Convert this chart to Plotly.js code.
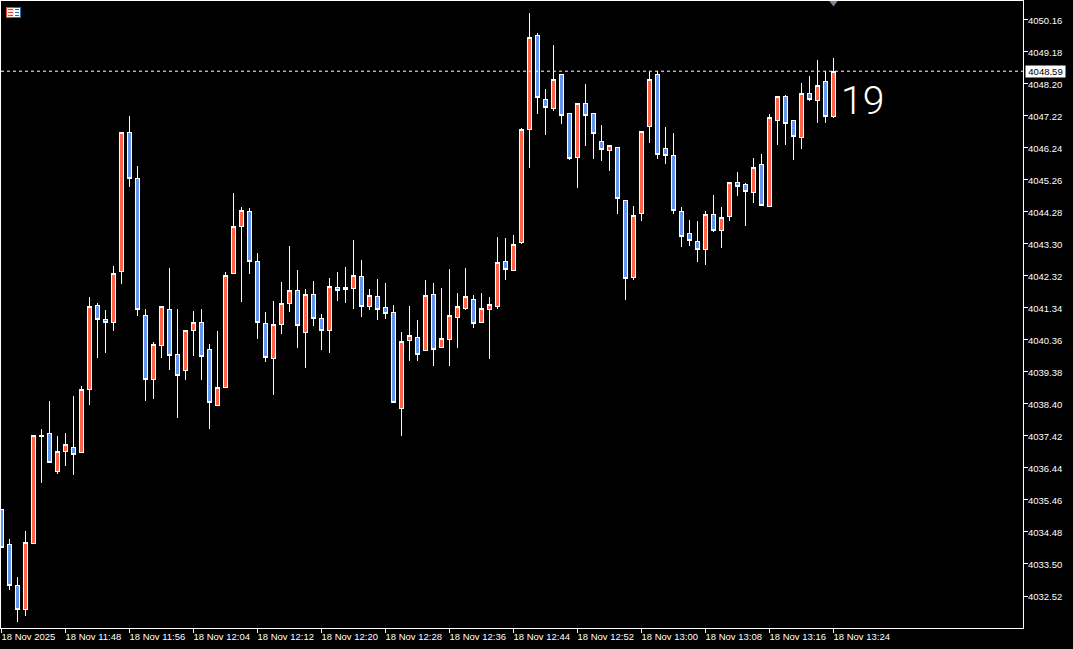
<!DOCTYPE html>
<html><head><meta charset="utf-8">
<script src="https://cdn.plot.ly/plotly-3.0.1.min.js"></script>
<style>html,body{margin:0;padding:0;background:#000;overflow:hidden}#c{width:1073px;height:649px}
#c .boxes path{shape-rendering:crispEdges}</style>
</head><body><div id="c"></div>
<script>
const openP = [35.18,34.11,32.83,32.12,34.14,37.44,37.50,36.32,36.96,37.08,36.90,38.83,41.43,41.00,40.91,42.47,46.70,45.29,41.12,39.16,40.18,41.28,39.93,39.44,40.64,40.91,40.08,38.34,38.92,42.41,43.85,44.28,42.75,40.85,39.78,40.82,41.49,41.89,40.60,41.74,41.03,40.64,41.98,41.98,41.95,42.29,41.37,41.68,41.34,41.19,38.25,40.33,40.45,40.05,41.74,40.14,40.36,41.06,41.31,41.59,40.91,41.28,41.40,42.75,42.50,43.33,46.79,49.67,47.71,47.46,48.48,47.28,45.96,47.59,47.28,46.45,46.15,46.24,44.62,42.26,44.22,46.91,48.48,46.21,46.00,44.28,43.61,43.39,43.12,44.19,43.70,44.13,45.17,45.11,44.89,45.72,44.46,47.07,47.83,47.07,46.55,47.92,47.68,48.26,47.19];
const highP = [35.18,34.27,33.10,34.51,37.45,37.63,38.49,37.42,37.50,38.64,38.95,41.68,41.49,41.28,42.63,46.73,47.22,45.69,41.31,40.30,41.37,42.57,41.31,40.64,41.25,41.31,40.24,40.64,42.44,44.86,44.43,44.40,43.02,41.22,41.55,42.14,43.24,42.50,41.92,42.17,41.16,42.26,42.44,42.60,43.42,42.81,41.92,42.23,42.11,41.43,40.60,41.40,40.97,42.20,42.11,41.95,42.53,41.80,42.57,41.74,41.80,41.68,43.51,43.48,43.58,46.85,50.37,49.76,48.05,49.39,48.48,47.28,47.59,48.20,47.28,46.94,46.33,46.24,44.62,44.46,46.73,48.60,48.60,46.88,46.70,44.43,44.03,44.00,44.31,44.80,44.43,45.20,45.50,45.17,45.93,46.06,47.28,47.83,47.86,47.07,48.23,48.45,48.93,48.60,48.99];
const lowP = [33.99,32.70,31.72,31.91,34.11,35.98,36.59,36.26,36.50,36.23,36.90,38.37,39.81,39.96,40.64,42.07,45.05,41.09,38.49,38.55,39.81,39.44,37.97,39.13,39.87,39.13,37.63,38.34,38.92,42.41,41.52,42.38,40.39,39.69,38.67,40.54,41.22,40.11,39.50,40.79,40.05,39.96,41.55,41.49,41.31,41.06,41.28,40.97,41.00,38.46,37.42,39.72,39.72,40.05,39.56,40.14,39.56,40.11,41.28,40.73,40.88,39.78,41.31,42.20,42.50,43.30,45.63,47.28,46.64,47.37,46.97,45.87,45.01,46.30,45.90,45.84,45.54,44.22,41.59,42.20,44.00,46.39,45.90,45.75,44.22,43.21,43.24,42.75,42.66,43.67,43.18,44.00,44.77,43.85,44.56,44.46,44.46,46.33,46.33,45.87,46.21,47.68,47.00,47.00,47.16];
const closeP = [33.99,32.83,32.12,34.17,37.45,37.41,36.62,36.96,37.15,36.84,38.83,41.40,41.00,40.88,42.41,46.70,45.29,41.28,39.16,40.21,41.37,39.87,39.26,40.64,40.91,39.84,38.46,38.92,42.32,43.85,44.31,42.75,40.91,39.81,40.82,41.49,41.86,40.79,41.74,41.03,40.64,42.01,41.86,41.92,42.32,41.40,41.71,41.28,41.16,38.46,40.30,40.51,39.90,41.71,40.08,40.42,41.12,41.37,41.68,40.85,41.31,41.46,42.72,42.53,43.27,46.82,49.61,47.80,47.49,48.35,47.22,45.93,47.59,47.22,46.67,46.18,46.30,44.68,42.23,44.16,46.73,48.35,46.03,46.00,44.31,43.54,43.42,43.12,44.19,43.70,44.10,45.17,45.05,44.92,45.63,44.49,47.16,47.83,47.00,46.58,47.92,47.71,48.14,47.19,48.59];
const base = 4000;
const candleIndex = openP.map((_, i) => i);
const timeTickIndex = [0,8,16,24,32,40,48,56,64,72,80,88,96,104];
const timeTickText = ["18 Nov 2025","18 Nov 11:48","18 Nov 11:56","18 Nov 12:04","18 Nov 12:12","18 Nov 12:20","18 Nov 12:28","18 Nov 12:36","18 Nov 12:44","18 Nov 12:52","18 Nov 13:00","18 Nov 13:08","18 Nov 13:16","18 Nov 13:24"];
const priceTicks = ["4050.16","4049.18","4048.20","4047.22","4046.24","4045.26","4044.28","4043.30","4042.32","4041.34","4040.36","4039.38","4038.40","4037.42","4036.44","4035.46","4034.48","4033.50","4032.52"];
const lastPrice = 4048.59;
const lastPriceLabel = "4048.59";
const overlayNumber = "19";
const up = "#ff6347", down = "#6495ed";
const abs = a => a.map(v => +(base + v).toFixed(2));
const trace = {
  type: "candlestick", x: candleIndex,
  open: abs(openP), high: abs(highP), low: abs(lowP), close: abs(closeP),
  increasing: {line: {color: "#ffffff", width: 1}, fillcolor: up},
  decreasing: {line: {color: "#ffffff", width: 1}, fillcolor: down},
  whiskerwidth: 0, hoverinfo: "skip"
};
const barMarker = {type:"scatter",mode:"markers",x:[104],y:[4050.71],marker:{symbol:"triangle-down",size:9,color:"#778899",line:{width:0}},hoverinfo:"skip"};
const fontFam = '"Liberation Sans", Arial, sans-serif';
function px(x0,y0,x1,y1,fill){return {type:"rect",xref:"paper",yref:"paper",xsizemode:"pixel",ysizemode:"pixel",xanchor:0,yanchor:1,x0:x0,x1:x1,y0:-y0,y1:-y1,fillcolor:fill,line:{width:0}};}
const shapes = [
  {type:"line",xref:"paper",x0:0,x1:1,yref:"y",y0:lastPrice,y1:lastPrice,line:{color:"#ffffff",width:1,dash:"3px,3px"}},
  px(5,6,13,17,"#e8432e"),px(13,6,20,17,"#1b6fb5"),
  px(6,7,13,16,"#fde9e2"),px(13,7,19,16,"#ffffff"),
  px(7,8,12,9,"#e8432e"),px(7,11,12,12,"#e8432e"),px(7,14,12,15,"#e8432e"),
  px(14,8,18,9,"#1b6fb5"),px(14,11,18,12,"#1b6fb5"),px(14,14,18,15,"#1b6fb5")
];
const layout = {
  width:1073,height:649,paper_bgcolor:"#000",plot_bgcolor:"#000",
  margin:{l:1,r:50,t:1,b:21,pad:0},showlegend:false,dragmode:false,boxgap:0.5,boxgroupgap:0,
  xaxis:{type:"linear",range:[-0.0625,127.6875],rangeslider:{visible:false},tickmode:"array",tickvals:timeTickIndex,ticktext:timeTickText,tickangle:0,
    ticks:"outside",ticklen:4,tickcolor:"#fff",tickwidth:1,ticklabelposition:"outside right",ticklabelshift:-1,showgrid:false,zeroline:false,
    showline:true,linecolor:"#fff",linewidth:1,mirror:true,tickfont:{family:fontFam,size:9.5,color:"#fff"},automargin:false},
  yaxis:{side:"right",range:[4031.54,4050.74],tickmode:"array",tickvals:priceTicks.map(Number),ticktext:priceTicks,
    ticks:"outside",ticklen:4,tickcolor:"#fff",tickwidth:1,ticklabelstandoff:-2,ticklabelshift:1,showgrid:false,zeroline:false,
    showline:true,linecolor:"#fff",linewidth:1,mirror:true,tickfont:{family:fontFam,size:9.5,color:"#fff"},automargin:false},
  shapes: shapes,
  annotations:[
    {xref:"paper",yref:"y",x:1,y:lastPrice,xanchor:"left",xshift:2,width:39,height:11,align:"center",text:lastPriceLabel,showarrow:false,bgcolor:"#fff",font:{family:fontFam,size:9.5,color:"#000"},borderpad:0},
    {xref:"x",yref:"y",x:104,y:4047.69,xanchor:"left",xshift:5,text:overlayNumber,showarrow:false,font:{family:'Roboto, sans-serif',size:39,color:"#fff",weight:300}}
  ]
};
Plotly.newPlot("c",[trace,barMarker],layout,{displayModeBar:false,staticPlot:true});
</script></body></html>
